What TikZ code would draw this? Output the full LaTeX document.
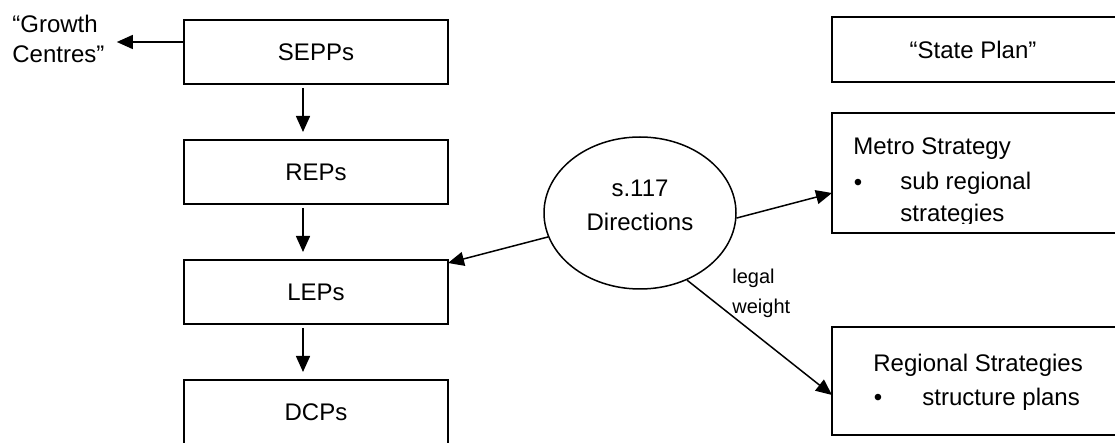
\documentclass[tikz,border=0pt]{standalone}
\usepackage{fontspec}
\setmainfont{Liberation Sans}
\usetikzlibrary{arrows.meta,positioning,shapes.geometric}

\tikzset{
  plan/.style={draw, line width=1pt, minimum width=132pt, minimum height=32pt,
    outer sep=0pt, inner sep=0pt, font=\fontsize{12}{17}\selectfont},
  strat/.style={draw, line width=1pt, minimum width=149pt, outer sep=0pt, inner sep=0pt},
  txt/.style={inner sep=0pt, font=\fontsize{12}{17}\selectfont},
  arr/.style={-{Triangle[length=8pt,width=7pt]}, line width=0.75pt},
}

\begin{document}
\begin{tikzpicture}[x=0.5pt, y=-0.5pt]
  \clip (0,0) rectangle (1115,443);

  % planning instruments
  \node[plan] (sepps) at (316,52) {SEPPs};
  \node[plan, below=28pt of sepps] (reps) {REPs};
  \node[plan, below=28pt of reps] (leps) {LEPs};
  \node[plan, below=28pt of leps] (dcps) {DCPs};

  \foreach \a/\b in {sepps/reps, reps/leps, leps/dcps}
    \draw[arr, shorten <=2pt, shorten >=4pt] ([xshift=-6.5pt]\a.south) -- ([xshift=-6.5pt]\b.north);

  \node[txt, font=\fontsize{12}{15}\selectfont, align=left, anchor=west] (growth) at (12,39) {“Growth\\Centres”};
  \coordinate (gout) at ([yshift=5pt]sepps.west);
  \draw[arr, shorten >=6pt] (gout) -- (gout -| growth.east);

  % s.117
  \node[draw, ellipse, line width=0.75pt, minimum width=96pt, minimum height=76pt, inner sep=0pt,
    label={[txt, align=center, yshift=4pt]center:s.117\\Directions}] (dir) at (640,213) {};

  % strategies
  \node[strat, minimum height=32.5pt] (state) at (981,49.5) {};
  \node[txt] (statetxt) at (973,50) {“State Plan”};
  \node[strat, minimum height=60pt] (metro) at (981,173) {};
  \node[strat, minimum height=54pt] (regional) at (981,381) {};

  \draw[arr] (dir) -- ([yshift=14.5pt]leps.east);
  \draw[arr] (dir.-3) -- ([yshift=-10pt]metro.west);
  \draw[arr] (dir.-55) -- ([yshift=-7pt]regional.west);
  \node[txt, font=\fontsize{10}{15}\selectfont, align=left, anchor=west] (legal) at (732,293) {legal\\weight};

  \begin{scope}
    \clip (832,113) rectangle (1115,224);
    \node[txt, anchor=base west] (metrohead) at (853,155) {Metro Strategy};
    \node[txt] (metrodot) at (858,185) {\textbullet};
    \node[txt, anchor=base west] (metroitem) at (900,190) {sub regional};
    \node[txt, anchor=base west] (metroitem2) at (900,222) {strategies};
  \end{scope}

  \node[txt, anchor=base west] (reghead) at (873,372) {Regional Strategies};
  \node[txt] (regdot) at (878,400) {\textbullet};
  \node[txt, anchor=base west] (regitem) at (922,406) {structure plans};
\end{tikzpicture}
\end{document}
